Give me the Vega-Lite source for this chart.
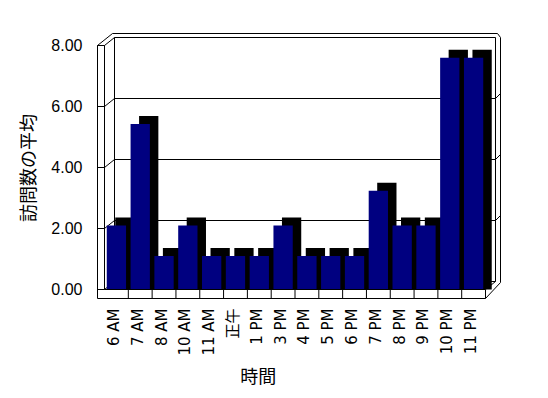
{
  "$schema": "https://vega.github.io/schema/vega-lite/v6.json",
  "autosize": {"type": "none"},
  "width": 381,
  "height": 244,
  "padding": {"left": 104.5, "top": 45.5, "right": 62.5, "bottom": 108.5},
  "background": "white",
  "config": {"view": {"stroke": null}},
  "data": {"values": [
    {"time": "6 AM", "value": 2},
    {"time": "7 AM", "value": 5.33},
    {"time": "8 AM", "value": 1},
    {"time": "10 AM", "value": 2},
    {"time": "11 AM", "value": 1},
    {"time": "正午", "value": 1},
    {"time": "1 PM", "value": 1},
    {"time": "3 PM", "value": 2},
    {"time": "4 PM", "value": 1},
    {"time": "5 PM", "value": 1},
    {"time": "6 PM", "value": 1},
    {"time": "7 PM", "value": 3.14},
    {"time": "8 PM", "value": 2},
    {"time": "9 PM", "value": 2},
    {"time": "10 PM", "value": 7.5},
    {"time": "11 PM", "value": 7.5}
  ]},
  "datasets": {
    "backwall": [
      {"x": 0, "x2": 16, "y": 0, "y2": 0},
      {"x": 0, "x2": 16, "y": 2, "y2": 2},
      {"x": 0, "x2": 16, "y": 4, "y2": 4},
      {"x": 0, "x2": 16, "y": 6, "y2": 6},
      {"x": 0, "x2": 16, "y": 8, "y2": 8},
      {"x": 0, "x2": 0, "y": 0, "y2": 8},
      {"x": 16, "x2": 16, "y": 0, "y2": 8}
    ],
    "leftdiag": [
      {"x": 0, "x2": 0, "y": 0, "y2": 0},
      {"x": 0, "x2": 0, "y": 2, "y2": 2},
      {"x": 0, "x2": 0, "y": 4, "y2": 4},
      {"x": 0, "x2": 0, "y": 6, "y2": 6},
      {"x": 0, "x2": 0, "y": 8, "y2": 8},
      {"x": 16, "x2": 16, "y": 0, "y2": 0}
    ],
    "wallfront": [
      {"x": 0, "x2": 0, "y": 8, "y2": 0},
      {"x": 0, "x2": 16, "y": 0, "y2": 0}
    ],
    "single0": [{"x": 0, "x2": 0, "y": 8, "y2": 0}],
    "floorline": [{"x": 0, "x2": 16, "y": 0, "y2": 0}],
    "dividers": [
      {"x": 1, "x2": 1, "y": 0, "y2": 0},
      {"x": 2, "x2": 2, "y": 0, "y2": 0},
      {"x": 3, "x2": 3, "y": 0, "y2": 0},
      {"x": 4, "x2": 4, "y": 0, "y2": 0},
      {"x": 5, "x2": 5, "y": 0, "y2": 0},
      {"x": 6, "x2": 6, "y": 0, "y2": 0},
      {"x": 7, "x2": 7, "y": 0, "y2": 0},
      {"x": 8, "x2": 8, "y": 0, "y2": 0},
      {"x": 9, "x2": 9, "y": 0, "y2": 0},
      {"x": 10, "x2": 10, "y": 0, "y2": 0},
      {"x": 11, "x2": 11, "y": 0, "y2": 0},
      {"x": 12, "x2": 12, "y": 0, "y2": 0},
      {"x": 13, "x2": 13, "y": 0, "y2": 0},
      {"x": 14, "x2": 14, "y": 0, "y2": 0},
      {"x": 15, "x2": 15, "y": 0, "y2": 0},
      {"x": 16, "x2": 16, "y": 0, "y2": 0}
    ],
    "rightcorner0": [{"x": 16, "x2": 16, "y": 0, "y2": 0}],
    "top8": [{"x": 0, "x2": 16, "y": 8, "y2": 8}],
    "right16": [{"x": 16, "x2": 16, "y": 8, "y2": 0}],
    "tr": [{"x": 16, "x2": 16, "y": 8, "y2": 8}],
    "tl": [{"x": 0, "x2": 0, "y": 8, "y2": 8}],
    "rightticks": [
      {"x": 16, "x2": 16, "y": 2, "y2": 2},
      {"x": 16, "x2": 16, "y": 4, "y2": 4},
      {"x": 16, "x2": 16, "y": 6, "y2": 6}
    ]
  },
  "resolve": {"scale": {"x": "independent"}, "axis": {"x": "independent", "y": "independent"}},
  "layer": [
    {
      "data": {"name": "backwall"},
      "mark": {"type": "rule", "color": "black", "strokeWidth": 1, "xOffset": 10, "x2Offset": 10, "yOffset": -8, "y2Offset": -8},
      "encoding": {
        "x": {"field": "x", "type": "quantitative", "scale": {"domain": [0, 16], "nice": false, "zero": false}, "axis": null},
        "x2": {"field": "x2"},
        "y": {"field": "y", "type": "quantitative", "scale": {"domain": [0, 8], "nice": false}, "axis": null},
        "y2": {"field": "y2"}
      }
    },
    {
      "data": {"name": "leftdiag"},
      "mark": {"type": "rule", "color": "black", "strokeWidth": 1, "x2Offset": 10, "y2Offset": -8},
      "encoding": {
        "x": {"field": "x", "type": "quantitative", "scale": {"domain": [0, 16], "nice": false, "zero": false}, "axis": null},
        "x2": {"field": "x2"},
        "y": {"field": "y", "type": "quantitative", "scale": {"domain": [0, 8], "nice": false}, "axis": null},
        "y2": {"field": "y2"}
      }
    },
    {
      "data": {"name": "rightticks"},
      "mark": {"type": "rule", "color": "black", "strokeWidth": 1, "xOffset": 10, "yOffset": -8, "x2Offset": 15, "y2Offset": -13},
      "encoding": {
        "x": {"field": "x", "type": "quantitative", "scale": {"domain": [0, 16], "nice": false, "zero": false}, "axis": null},
        "x2": {"field": "x2"},
        "y": {"field": "y", "type": "quantitative", "scale": {"domain": [0, 8], "nice": false}, "axis": null},
        "y2": {"field": "y2"}
      }
    },
    {
      "mark": {"type": "bar", "color": "black", "xOffset": 8.5, "yOffset": -11, "y2Offset": 0},
      "encoding": {
        "x": {"field": "time", "type": "nominal", "sort": null, "scale": {"paddingInner": 0.19, "paddingOuter": 0.095}, "axis": null},
        "y": {"field": "value", "type": "quantitative", "scale": {"domain": [0, 8], "nice": false}, "axis": null},
        "y2": {"datum": 0}
      }
    },
    {
      "mark": {"type": "bar", "color": "#000080", "yOffset": -3, "y2Offset": 0},
      "encoding": {
        "x": {"field": "time", "type": "nominal", "sort": null, "scale": {"paddingInner": 0.19, "paddingOuter": 0.095},
          "axis": {"title": "時間", "labelAngle": -90, "labelFont": "DejaVu Sans, Noto Sans CJK JP", "labelFontSize": 15, "labelColor": "black",
            "labelPadding": 19, "labelOffset": -2, "ticks": false, "tickSize": 0, "domain": false, "translate": 0,
            "titleFont": "Noto Sans CJK JP", "titleFontSize": 18, "titleFontWeight": "normal", "titleColor": "black",
            "titleX": 153.8, "titleY": 88, "titleAlign": "center", "titleBaseline": "middle", "titleAngle": 0}},
        "y": {"field": "value", "type": "quantitative", "scale": {"domain": [0, 8], "nice": false},
          "axis": {"title": "訪問数の平均", "values": [0, 2, 4, 6, 8], "format": ".2f", "grid": false, "domain": false,
            "ticks": true, "tickSize": 7, "tickColor": "black", "tickWidth": 1, "translate": 0,
            "labelFont": "Liberation Sans", "labelFontSize": 16, "labelColor": "black", "labelPadding": 15,
            "titleFont": "Noto Sans CJK JP", "titleFontSize": 18, "titleFontWeight": "normal", "titleColor": "black",
            "titleAngle": -90, "titleX": -74.5, "titleY": 122.5, "titleAlign": "center", "titleBaseline": "middle"}},
        "y2": {"datum": 0}
      }
    },
    {
      "data": {"name": "wallfront"},
      "mark": {"type": "rule", "color": "black", "strokeWidth": 1},
      "encoding": {
        "x": {"field": "x", "type": "quantitative", "scale": {"domain": [0, 16], "nice": false, "zero": false}, "axis": null},
        "x2": {"field": "x2"},
        "y": {"field": "y", "type": "quantitative", "scale": {"domain": [0, 8], "nice": false}, "axis": null},
        "y2": {"field": "y2"}
      }
    },
    {
      "data": {"name": "single0"},
      "mark": {"type": "rule", "color": "black", "strokeWidth": 1, "xOffset": -7, "x2Offset": -7, "y2Offset": 9},
      "encoding": {
        "x": {"field": "x", "type": "quantitative", "scale": {"domain": [0, 16], "nice": false, "zero": false}, "axis": null},
        "x2": {"field": "x2"},
        "y": {"field": "y", "type": "quantitative", "scale": {"domain": [0, 8], "nice": false}, "axis": null},
        "y2": {"field": "y2"}
      }
    },
    {
      "data": {"name": "floorline"},
      "mark": {"type": "rule", "color": "black", "strokeWidth": 1, "xOffset": -7, "yOffset": 9, "y2Offset": 9},
      "encoding": {
        "x": {"field": "x", "type": "quantitative", "scale": {"domain": [0, 16], "nice": false, "zero": false}, "axis": null},
        "x2": {"field": "x2"},
        "y": {"field": "y", "type": "quantitative", "scale": {"domain": [0, 8], "nice": false}, "axis": null},
        "y2": {"field": "y2"}
      }
    },
    {
      "data": {"name": "dividers"},
      "mark": {"type": "rule", "color": "black", "strokeWidth": 1, "y2Offset": 9},
      "encoding": {
        "x": {"field": "x", "type": "quantitative", "scale": {"domain": [0, 16], "nice": false, "zero": false}, "axis": null},
        "x2": {"field": "x2"},
        "y": {"field": "y", "type": "quantitative", "scale": {"domain": [0, 8], "nice": false}, "axis": null},
        "y2": {"field": "y2"}
      }
    },
    {
      "data": {"name": "rightcorner0"},
      "mark": {"type": "rule", "color": "black", "strokeWidth": 1, "yOffset": 9, "x2Offset": 15, "y2Offset": -7},
      "encoding": {
        "x": {"field": "x", "type": "quantitative", "scale": {"domain": [0, 16], "nice": false, "zero": false}, "axis": null},
        "x2": {"field": "x2"},
        "y": {"field": "y", "type": "quantitative", "scale": {"domain": [0, 8], "nice": false}, "axis": null},
        "y2": {"field": "y2"}
      }
    },
    {
      "data": {"name": "top8"},
      "mark": {"type": "rule", "color": "black", "strokeWidth": 1, "xOffset": 8, "yOffset": -12, "x2Offset": 12, "y2Offset": -12},
      "encoding": {
        "x": {"field": "x", "type": "quantitative", "scale": {"domain": [0, 16], "nice": false, "zero": false}, "axis": null},
        "x2": {"field": "x2"},
        "y": {"field": "y", "type": "quantitative", "scale": {"domain": [0, 8], "nice": false}, "axis": null},
        "y2": {"field": "y2"}
      }
    },
    {
      "data": {"name": "right16"},
      "mark": {"type": "rule", "color": "black", "strokeWidth": 1, "xOffset": 15, "yOffset": -8, "x2Offset": 15, "y2Offset": -7},
      "encoding": {
        "x": {"field": "x", "type": "quantitative", "scale": {"domain": [0, 16], "nice": false, "zero": false}, "axis": null},
        "x2": {"field": "x2"},
        "y": {"field": "y", "type": "quantitative", "scale": {"domain": [0, 8], "nice": false}, "axis": null},
        "y2": {"field": "y2"}
      }
    },
    {
      "data": {"name": "tr"},
      "mark": {"type": "rule", "color": "black", "strokeWidth": 1, "xOffset": 12, "yOffset": -12, "x2Offset": 15, "y2Offset": -8},
      "encoding": {
        "x": {"field": "x", "type": "quantitative", "scale": {"domain": [0, 16], "nice": false, "zero": false}, "axis": null},
        "x2": {"field": "x2"},
        "y": {"field": "y", "type": "quantitative", "scale": {"domain": [0, 8], "nice": false}, "axis": null},
        "y2": {"field": "y2"}
      }
    },
    {
      "data": {"name": "tl"},
      "mark": {"type": "rule", "color": "black", "strokeWidth": 1, "xOffset": -7, "x2Offset": 8, "y2Offset": -12},
      "encoding": {
        "x": {"field": "x", "type": "quantitative", "scale": {"domain": [0, 16], "nice": false, "zero": false}, "axis": null},
        "x2": {"field": "x2"},
        "y": {"field": "y", "type": "quantitative", "scale": {"domain": [0, 8], "nice": false}, "axis": null},
        "y2": {"field": "y2"}
      }
    },
    {
      "data": {"name": "tl"},
      "mark": {"type": "rule", "color": "black", "strokeWidth": 1, "xOffset": -7, "x2Offset": 0},
      "encoding": {
        "x": {"field": "x", "type": "quantitative", "scale": {"domain": [0, 16], "nice": false, "zero": false}, "axis": null},
        "x2": {"field": "x2"},
        "y": {"field": "y", "type": "quantitative", "scale": {"domain": [0, 8], "nice": false}, "axis": null},
        "y2": {"field": "y2"}
      }
    }
  ]
}
